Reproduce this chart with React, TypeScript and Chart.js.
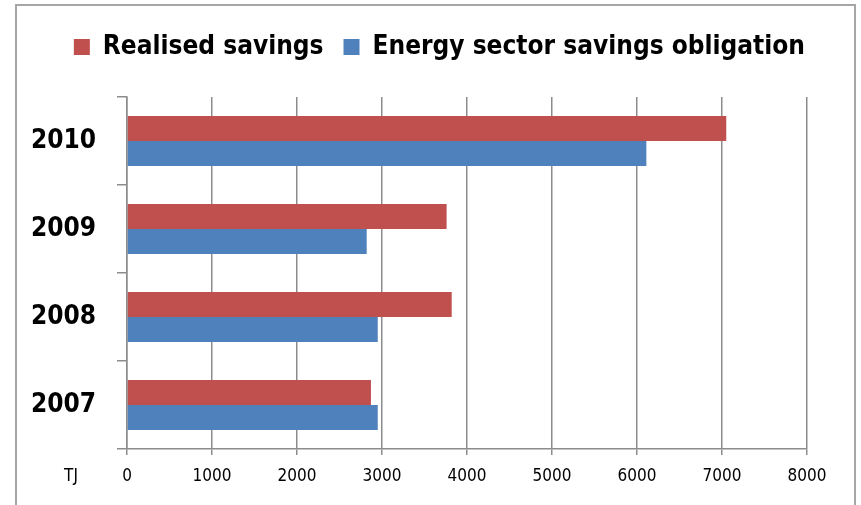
import React, { useEffect, useRef } from "react";
import { Chart, registerables } from "chart.js";

Chart.register(...registerables);

const categories = ["2010", "2009", "2008", "2007"];
const realisedSavings = [7050, 3760, 3820, 2870];
const obligation = [6110, 2820, 2950, 2950];
const seriesNames = ["Realised savings", "Energy sector savings obligation"];
const xTicks = [0, 1000, 2000, 3000, 4000, 5000, 6000, 7000, 8000];
const unitLabel = "TJ";

const FONT = "'DejaVu Sans Condensed', 'Liberation Sans', sans-serif";
const GRID = "#8c8c8c";

export default function App() {
  const ref = useRef<HTMLCanvasElement | null>(null);
  useEffect(() => {
    if (!ref.current) return;
    const unitPlugin = {
      id: "unitPlugin",
      afterDraw(chart: any) {
        const ctx = chart.ctx;
        const x = chart.scales.x;
        ctx.save();
        ctx.font = `17px ${FONT}`;
        ctx.fillStyle = "#000";
        ctx.textAlign = "center";
        ctx.textBaseline = "middle";
        ctx.fillText(unitLabel, 71, x.bottom - 28);
        ctx.restore();
      },
    };
    const chart = new Chart(ref.current, {
      type: "bar",
      data: {
        labels: categories,
        datasets: [
          { label: seriesNames[0], data: realisedSavings, backgroundColor: "#C0504D", xAxisID: "x", yAxisID: "y" },
          { label: seriesNames[1], data: obligation, backgroundColor: "#4F81BD", xAxisID: "x", yAxisID: "y" },
        ],
      },
      options: {
        indexAxis: "y",
        animation: false,
        responsive: false,
        maintainAspectRatio: false,
        datasets: { bar: { categoryPercentage: 0.57, barPercentage: 1 } },
        layout: { padding: { left: 0, right: 36, top: 14, bottom: 0 } },
        plugins: {
          tooltip: { enabled: false },
          legend: {
            position: "top",
            align: "end",
            labels: {
              boxWidth: 16,
              boxHeight: 16,
              padding: 20,
              color: "#000",
              font: { family: FONT, size: 26, weight: "bold" },
            },
          },
        },
        scales: {
          y: {
            type: "category",
            ticks: { color: "#000", padding: 21, font: { family: FONT, size: 26, weight: "bold" } },
            grid: { display: true, drawOnChartArea: false, color: GRID, lineWidth: 1.5, tickLength: 10, offset: true },
            border: { display: true, color: GRID, width: 1.5 },
            afterFit: (s: any) => { s.width = 127; },
          },
          x: {
            type: "linear",
            position: "bottom",
            min: 0,
            max: 8000,
            afterBuildTicks: (s: any) => { s.ticks = xTicks.map((v) => ({ value: v })); },
            ticks: { color: "#000", padding: 11, font: { family: FONT, size: 17 }, callback: (v: any) => String(v) },
            grid: { color: GRID, lineWidth: 1.5, tickLength: 6 },
            border: { display: true, color: GRID, width: 1.5 },
            afterFit: (s: any) => { s.height = 56; },
          },
          x2: {
            type: "linear",
            position: "top",
            min: 0,
            max: 8000,
            ticks: { display: false },
            grid: { display: false },
            border: { display: false },
            afterFit: (s: any) => { s.height = 27; },
          },
          y2: {
            type: "linear",
            position: "right",
            min: 0,
            max: 1,
            ticks: { display: false },
            grid: { display: false },
            border: { display: false },
            afterFit: (s: any) => { s.width = 18; },
          },
        },
      } as any,
      plugins: [unitPlugin],
    });
    return () => chart.destroy();
  }, []);
  return (
    <div style={{ position: "fixed", left: 0, top: 0, width: 861, height: 505, background: "#fff", overflow: "hidden" }}>
      <div style={{ position: "absolute", left: 15, top: 4, width: 841, height: 530, border: "2px solid #a6a6a6", boxSizing: "border-box" }} />
      <canvas ref={ref} width={861} height={505} style={{ position: "absolute", left: 0, top: 0, width: 861, height: 505 }} />
    </div>
  );
}
